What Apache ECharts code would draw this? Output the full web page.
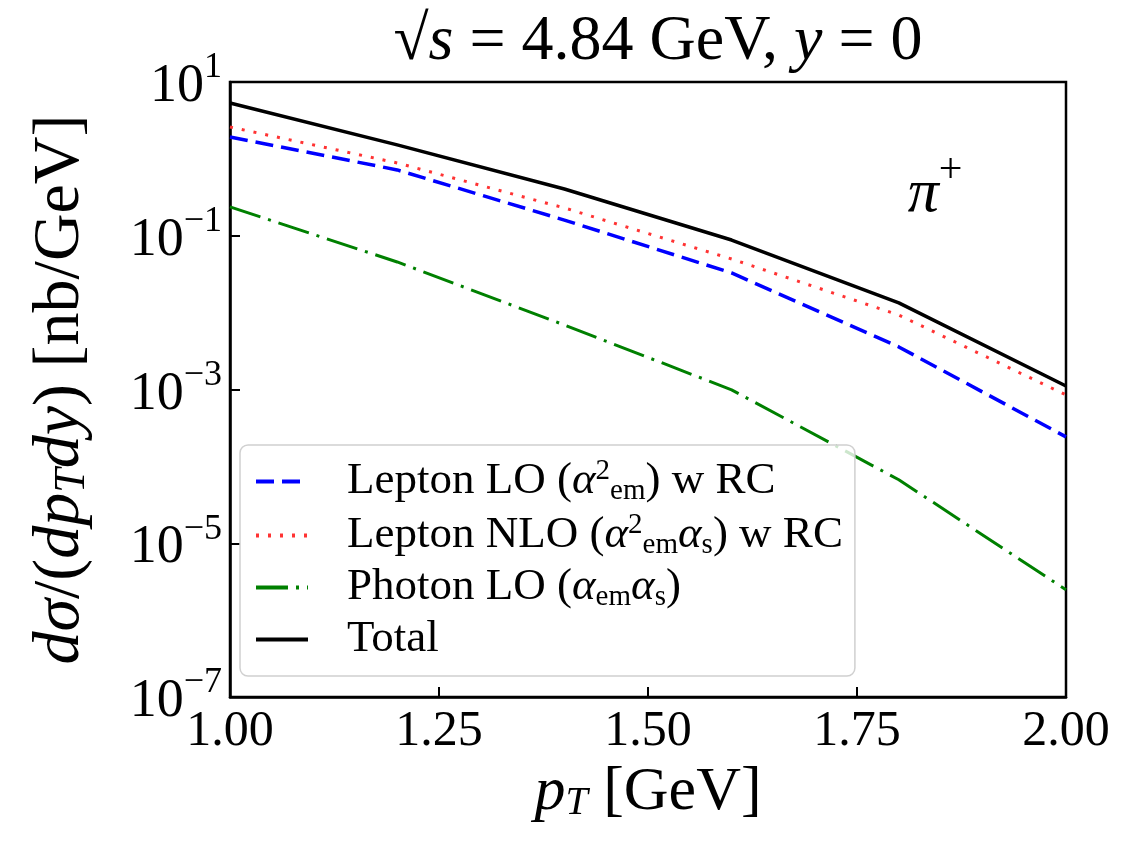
<!DOCTYPE html>
<html>
<head>
<meta charset="utf-8">
<script src="https://cdn.jsdelivr.net/npm/echarts@6/dist/echarts.min.js"></script>
<style>
  html, body { margin: 0; padding: 0; background: #fff; }
  #chart { width: 1126px; height: 846px; }
</style>
</head>
<body>
<div id="chart"></div>
<script>
// pT values (GeV) and cross sections (nb/GeV)
const pT = [1.0, 1.2, 1.4, 1.6, 1.8, 2.0];
const leptonLO = [1.93, 0.718, 0.160, 0.0328, 0.00358, 0.000242];
const leptonNLO = [2.60, 0.885, 0.230, 0.0499, 0.0093, 0.00085];
const photonLO = [0.237, 0.0456, 0.0069, 0.00099, 0.000067, 0.00000248];
const total = [5.33, 1.52, 0.406, 0.088, 0.0134, 0.00111];

const yTicks = [1e-7, 1e-5, 1e-3, 1e-1, 1e1];

const seriesNames = ['Lepton LO', 'Lepton NLO', 'Photon LO', 'Total'];
const legendLabels = {
  'Lepton LO': '{g|}{n|Lepton LO (}{a|α}{sup|2}{sub|em}{n|) w RC}',
  'Lepton NLO': '{g|}{n|Lepton NLO (}{a|α}{sup|2}{sub|em}{a|α}{sub|s}{n|) w RC}',
  'Photon LO': '{g|}{n|Photon LO (}{a|α}{sub|em}{a|α}{sub|s}{n|)}',
  'Total': '{g|}{n|Total}'
};

const FONT = 'Liberation Serif';

function pairs(arr) {
  return pT.map((x, i) => [x, arr[i]]);
}

function supLabel(v) {
  const e = Math.round(Math.log10(v));
  return '{b|10}{s|' + (e < 0 ? '\u2212' + (-e) : e) + '}';
}

const chart = echarts.init(document.getElementById('chart'));

chart.setOption({
  backgroundColor: '#fff',
  animation: false,
  grid: {
    left: 230, right: 60, top: 82, bottom: 149,
    show: true, borderColor: '#000', borderWidth: 2.5
  },
  xAxis: {
    type: 'value', min: 1, max: 2, interval: 0.25,
    name: '{i|p}{sub|T}{n| [GeV]}',
    nameLocation: 'middle', nameGap: 54,
    nameTextStyle: {
      fontFamily: FONT, color: '#000',
      rich: {
        i: { fontFamily: FONT, fontSize: 62, fontStyle: 'italic', color: '#000' },
        sub: { fontFamily: FONT, fontSize: 40, fontStyle: 'italic', verticalAlign: 'bottom', color: '#000' },
        n: { fontFamily: FONT, fontSize: 62, color: '#000' }
      }
    },
    axisLine: { lineStyle: { color: '#000', width: 2.5 } },
    axisTick: { inside: true, length: 10, lineStyle: { color: '#000', width: 2 } },
    axisLabel: {
      fontFamily: FONT, fontSize: 50, color: '#000', margin: 10,
      formatter: v => v.toFixed(2)
    },
    splitLine: { show: false }
  },
  yAxis: {
    type: 'log', logBase: 10, min: 1e-7, max: 10,
    name: '{i|dσ}{n|/(}{i|dp}{sub|T}{i|dy}{n|) [nb/GeV]}',
    nameLocation: 'middle', nameGap: 136, nameRotate: 90,
    nameTextStyle: {
      fontFamily: FONT, color: '#000',
      rich: {
        i: { fontFamily: FONT, fontSize: 66, fontStyle: 'italic', color: '#000' },
        sub: { fontFamily: FONT, fontSize: 44, fontStyle: 'italic', verticalAlign: 'bottom', color: '#000' },
        n: { fontFamily: FONT, fontSize: 66, color: '#000' }
      }
    },
    axisLine: { lineStyle: { color: '#000', width: 2.5 } },
    axisTick: { inside: true, length: 10, lineStyle: { color: '#000', width: 2 }, customValues: yTicks },
    axisLabel: {
      margin: 8,
      customValues: yTicks,
      formatter: supLabel,
      rich: {
        b: { fontFamily: FONT, fontSize: 54, color: '#000', lineHeight: 64, verticalAlign: 'bottom' },
        s: { fontFamily: FONT, fontSize: 36, color: '#000', verticalAlign: 'top' }
      }
    },
    splitLine: { show: false },
    minorTick: { show: false }
  },
  legend: {
    orient: 'vertical',
    left: 240, top: 445,
    data: seriesNames,
    itemWidth: 52, itemHeight: 14, itemGap: 5,
    padding: [12, 12, 14, 14],
    backgroundColor: 'rgba(255,255,255,0.8)',
    borderColor: '#d0d0d0', borderWidth: 1.5, borderRadius: 8,
    itemStyle: { opacity: 0 },
    lineStyle: { width: 4 },
    formatter: name => legendLabels[name],
    textStyle: {
      rich: {
        g: { width: 34 },
        n: { fontFamily: FONT, fontSize: 45, color: '#000', lineHeight: 49 },
        a: { fontFamily: FONT, fontSize: 45, fontStyle: 'italic', color: '#000', lineHeight: 49 },
        sup: { fontFamily: FONT, fontSize: 29, color: '#000', verticalAlign: 'top' },
        sub: { fontFamily: FONT, fontSize: 29, color: '#000', verticalAlign: 'bottom' }
      }
    }
  },
  graphic: [
    {
      type: 'text', x: 658, y: 42,
      style: {
        text: '{n|\u221A}{i|s}{n| = 4.84 GeV, }{i|y}{n| = 0}',
        align: 'center', verticalAlign: 'middle',
        rich: {
          n: { fontFamily: FONT, fontSize: 64, fill: '#000' },
          i: { fontFamily: FONT, fontSize: 64, fontStyle: 'italic', fill: '#000' }
        }
      }
    },
    {
      type: 'text', x: 935, y: 188,
      style: {
        text: '{i|π}{s|+}',
        align: 'center', verticalAlign: 'middle',
        rich: {
          i: { fontFamily: FONT, fontSize: 62, fontStyle: 'italic', fill: '#000', lineHeight: 76, verticalAlign: 'bottom' },
          s: { fontFamily: FONT, fontSize: 42, fill: '#000', verticalAlign: 'top' }
        }
      }
    }
  ],
  series: [
    {
      name: 'Lepton LO', type: 'line', data: pairs(leptonLO), symbol: 'none',
      lineStyle: { color: '#0000ff', width: 3.5, type: [18, 8] },
      itemStyle: { color: '#0000ff' }, z: 3
    },
    {
      name: 'Lepton NLO', type: 'line', data: pairs(leptonNLO), symbol: 'none',
      lineStyle: { color: '#ff3333', width: 3, type: [3, 9] },
      itemStyle: { color: '#ff3333' }, z: 3
    },
    {
      name: 'Photon LO', type: 'line', data: pairs(photonLO), symbol: 'none',
      lineStyle: { color: '#008000', width: 3, type: [32, 8, 3, 8] },
      itemStyle: { color: '#008000' }, z: 3
    },
    {
      name: 'Total', type: 'line', data: pairs(total), symbol: 'none',
      lineStyle: { color: '#000', width: 3.5 },
      itemStyle: { color: '#000' }, z: 3
    }
  ]
});
</script>
</body>
</html>
